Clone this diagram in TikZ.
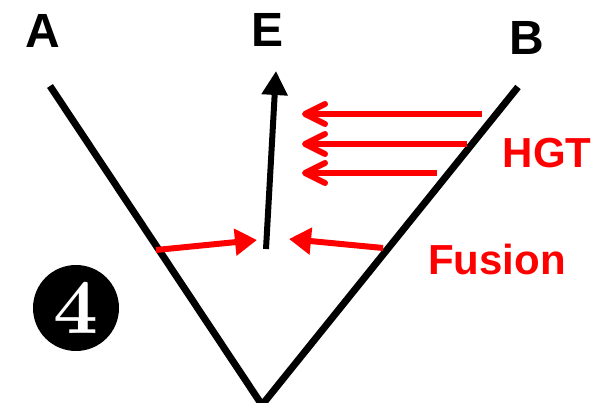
\documentclass[tikz,border=0pt]{standalone}
\usepackage{fontspec}
\setsansfont{Liberation Sans}
\newfontfamily\numfont{lmroman10-bold.otf}
\usetikzlibrary{arrows.meta}

% simple V-shaped barb with round ends
\pgfdeclarearrow{
  name = barb,
  parameters = {\the\pgfarrowlength,\the\pgfarrowwidth},
  setup code = {
    \pgfarrowssettipend{.5\pgflinewidth}
    \pgfarrowssetlineend{-.5\pgflinewidth}
    \pgfarrowssavethe\pgfarrowlength
    \pgfarrowssavethe\pgfarrowwidth
  },
  drawing code = {
    \pgfsetroundcap
    \pgfsetroundjoin
    \pgfpathmoveto{\pgfqpoint{-\pgfarrowlength}{.5\pgfarrowwidth}}
    \pgfpathlineto{\pgfpointorigin}
    \pgfpathlineto{\pgfqpoint{-\pgfarrowlength}{-.5\pgfarrowwidth}}
    \pgfusepathqstroke
  },
  defaults = {length=20pt, width=20pt}
}

\begin{document}
\begin{tikzpicture}[x=1pt, y=-1pt, font=\sffamily\bfseries,
    branch/.style={line width=7pt, black},
    label/.style={font=\sffamily\bfseries\fontsize{48}{48}\selectfont, inner sep=0pt},
    redlabel/.style={font=\sffamily\bfseries\fontsize{42}{42}\selectfont, text=red, inner sep=0pt},
    hgt/.style={line width=6pt, red, -{barb[length=20pt, width=20pt]}},
    fusion/.style={line width=6pt, red, -{Triangle[length=22pt, width=26pt]}}]
  \useasboundingbox (0,0) rectangle (595,403);

  % Tree
  \coordinate (root) at (262,405);
  \coordinate (tipA) at (50,86);
  \coordinate (tipB) at (518,87);
  \draw[branch] (tipA) -- (root) -- (tipB);

  % Leaf labels
  \node[label] (A) at (43,31) {A};
  \node[label] (E) at (268,30) {E};
  \node[label] (B) at (527,38) {B};

  % Lineage E
  \coordinate (baseE) at (266,249);
  \coordinate (topE) at (276,71);
  \draw[line width=6pt, -{Triangle[length=24pt, width=25pt]}] (baseE) -- (topE);

  % HGT arrows
  \coordinate (h1) at (482,114);
  \coordinate (h2) at (467,144);
  \coordinate (h3) at (437,173);
  \coordinate (g1) at (302,114);
  \coordinate (g2) at (302,144);
  \coordinate (g3) at (302,173);
  \draw[hgt] (h1) -- (g1);
  \draw[hgt] (h2) -- (g2);
  \draw[hgt] (h3) -- (g3);
  \node[redlabel] (HGT) at (547,153) {HGT};

  % Fusion arrows
  \coordinate (fa) at (156,250);
  \coordinate (fb) at (383,248);
  \coordinate (ta) at (257,240);
  \coordinate (tb) at (289,239);
  \draw[fusion] (fa) -- (ta);
  \draw[fusion] (fb) -- (tb);
  \node[redlabel, anchor=base west] (Fusion) at (428,275) {Fusion};

  % Panel number
  \node[circle, fill=black, text=white, minimum size=86pt, inner sep=0pt,
    font=\numfont\fontsize{78}{78}\selectfont] (num) at (76,308) {4};
\end{tikzpicture}
\end{document}
